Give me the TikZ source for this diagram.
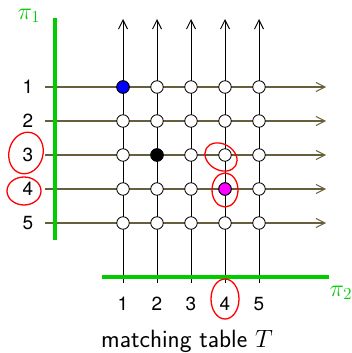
\documentclass[tikz,border=0pt]{standalone}
\usepackage{fix-cm}
\usepackage{fontspec}
\newfontfamily\numfont{TeX Gyre Heros}
\usetikzlibrary{arrows.meta}
\definecolor{olivel}{HTML}{675E3C}
\definecolor{gr}{HTML}{00CC00}
\definecolor{mag}{HTML}{FF00FF}
\definecolor{blu}{HTML}{0000FF}
\begin{document}
\begin{tikzpicture}[x=1pt,y=-1pt,
  hline/.style={draw=olivel,line width=1.3pt,-{Straight Barb[length=9pt,width=9pt,line width=1pt]}},
  varrow/.style={draw=black,line width=0.9pt,-{Straight Barb[length=9pt,width=9pt,line width=1pt]}},
  cell/.style={circle,draw=black,line width=0.8pt,fill=white,minimum size=12.5pt,inner sep=0pt},
  axis/.style={draw=gr,line width=3.5pt},
  lab/.style={font=\numfont\fontsize{19}{21}\selectfont,inner sep=0pt},
  pilab/.style={text=gr,font=\fontsize{24}{26}\selectfont,inner sep=0pt},
  note/.style={draw=red,line width=1.3pt}]
\useasboundingbox (0,0) rectangle (351,353);
% horizontal lines
\foreach \r/\y in {1/87,2/121,3/155,4/189,5/223}{
  \coordinate (hs\r) at (45,\y);
  \coordinate (he\r) at (326,\y);
  \draw[hline] (hs\r) -- (he\r);
}
% vertical lines
\foreach \c/\x in {1/123,2/157,3/191,4/225,5/259}{
  \coordinate (vb\c) at (\x,283);
  \coordinate (vt\c) at (\x,19);
  \draw[varrow] (vb\c) -- (vt\c);
}
% green axes
\coordinate (ga) at (55,18); \coordinate (gb) at (55,240);
\draw[axis] (ga) -- (gb);
\coordinate (gc) at (102,277); \coordinate (gd) at (329,277);
\draw[axis] (gc) -- (gd);
\node[pilab] (pi1) at (29,16) {$\pi_1$};
\node[pilab] (pi2) at (341,293) {$\pi_2$};
% cells
\foreach \r/\y in {1/87,2/121,3/155,4/189,5/223}{
  \foreach \c/\x in {1/123,2/157,3/191,4/225,5/259}{
    \node[cell] (n\r\c) at (\x,\y) {};
  }
}
\node[cell,fill=blu] at (n11) {};
\node[cell,fill=black] at (n32) {};
\node[cell,fill=mag] at (n44) {};
% labels
\foreach \r/\y in {1/87,2/121,3/155,4/189,5/223}{
  \node[lab] (rl\r) at (28,\y) {\r};
}
\foreach \c/\x in {1/123,2/157,3/191,4/225,5/259}{
  \node[lab] (cl\c) at (\x,304) {\c};
}
\node[font=\sffamily\fontsize{25}{27}\selectfont,inner sep=0pt] (cap) at (187,341) {matching table $T$};
% red annotations
\draw[note,rotate around={-15:(26,153)}] (26,153) ellipse [x radius=17, y radius=21];
\draw[note] (24,191) ellipse [x radius=17, y radius=14];
\draw[note,rotate around={-30:(221,157)}] (221,157) ellipse [x radius=17, y radius=13];
\draw[note] (225,190) ellipse [x radius=13, y radius=17];
\draw[note] (225,299) ellipse [x radius=14, y radius=20];
\end{tikzpicture}
\end{document}
